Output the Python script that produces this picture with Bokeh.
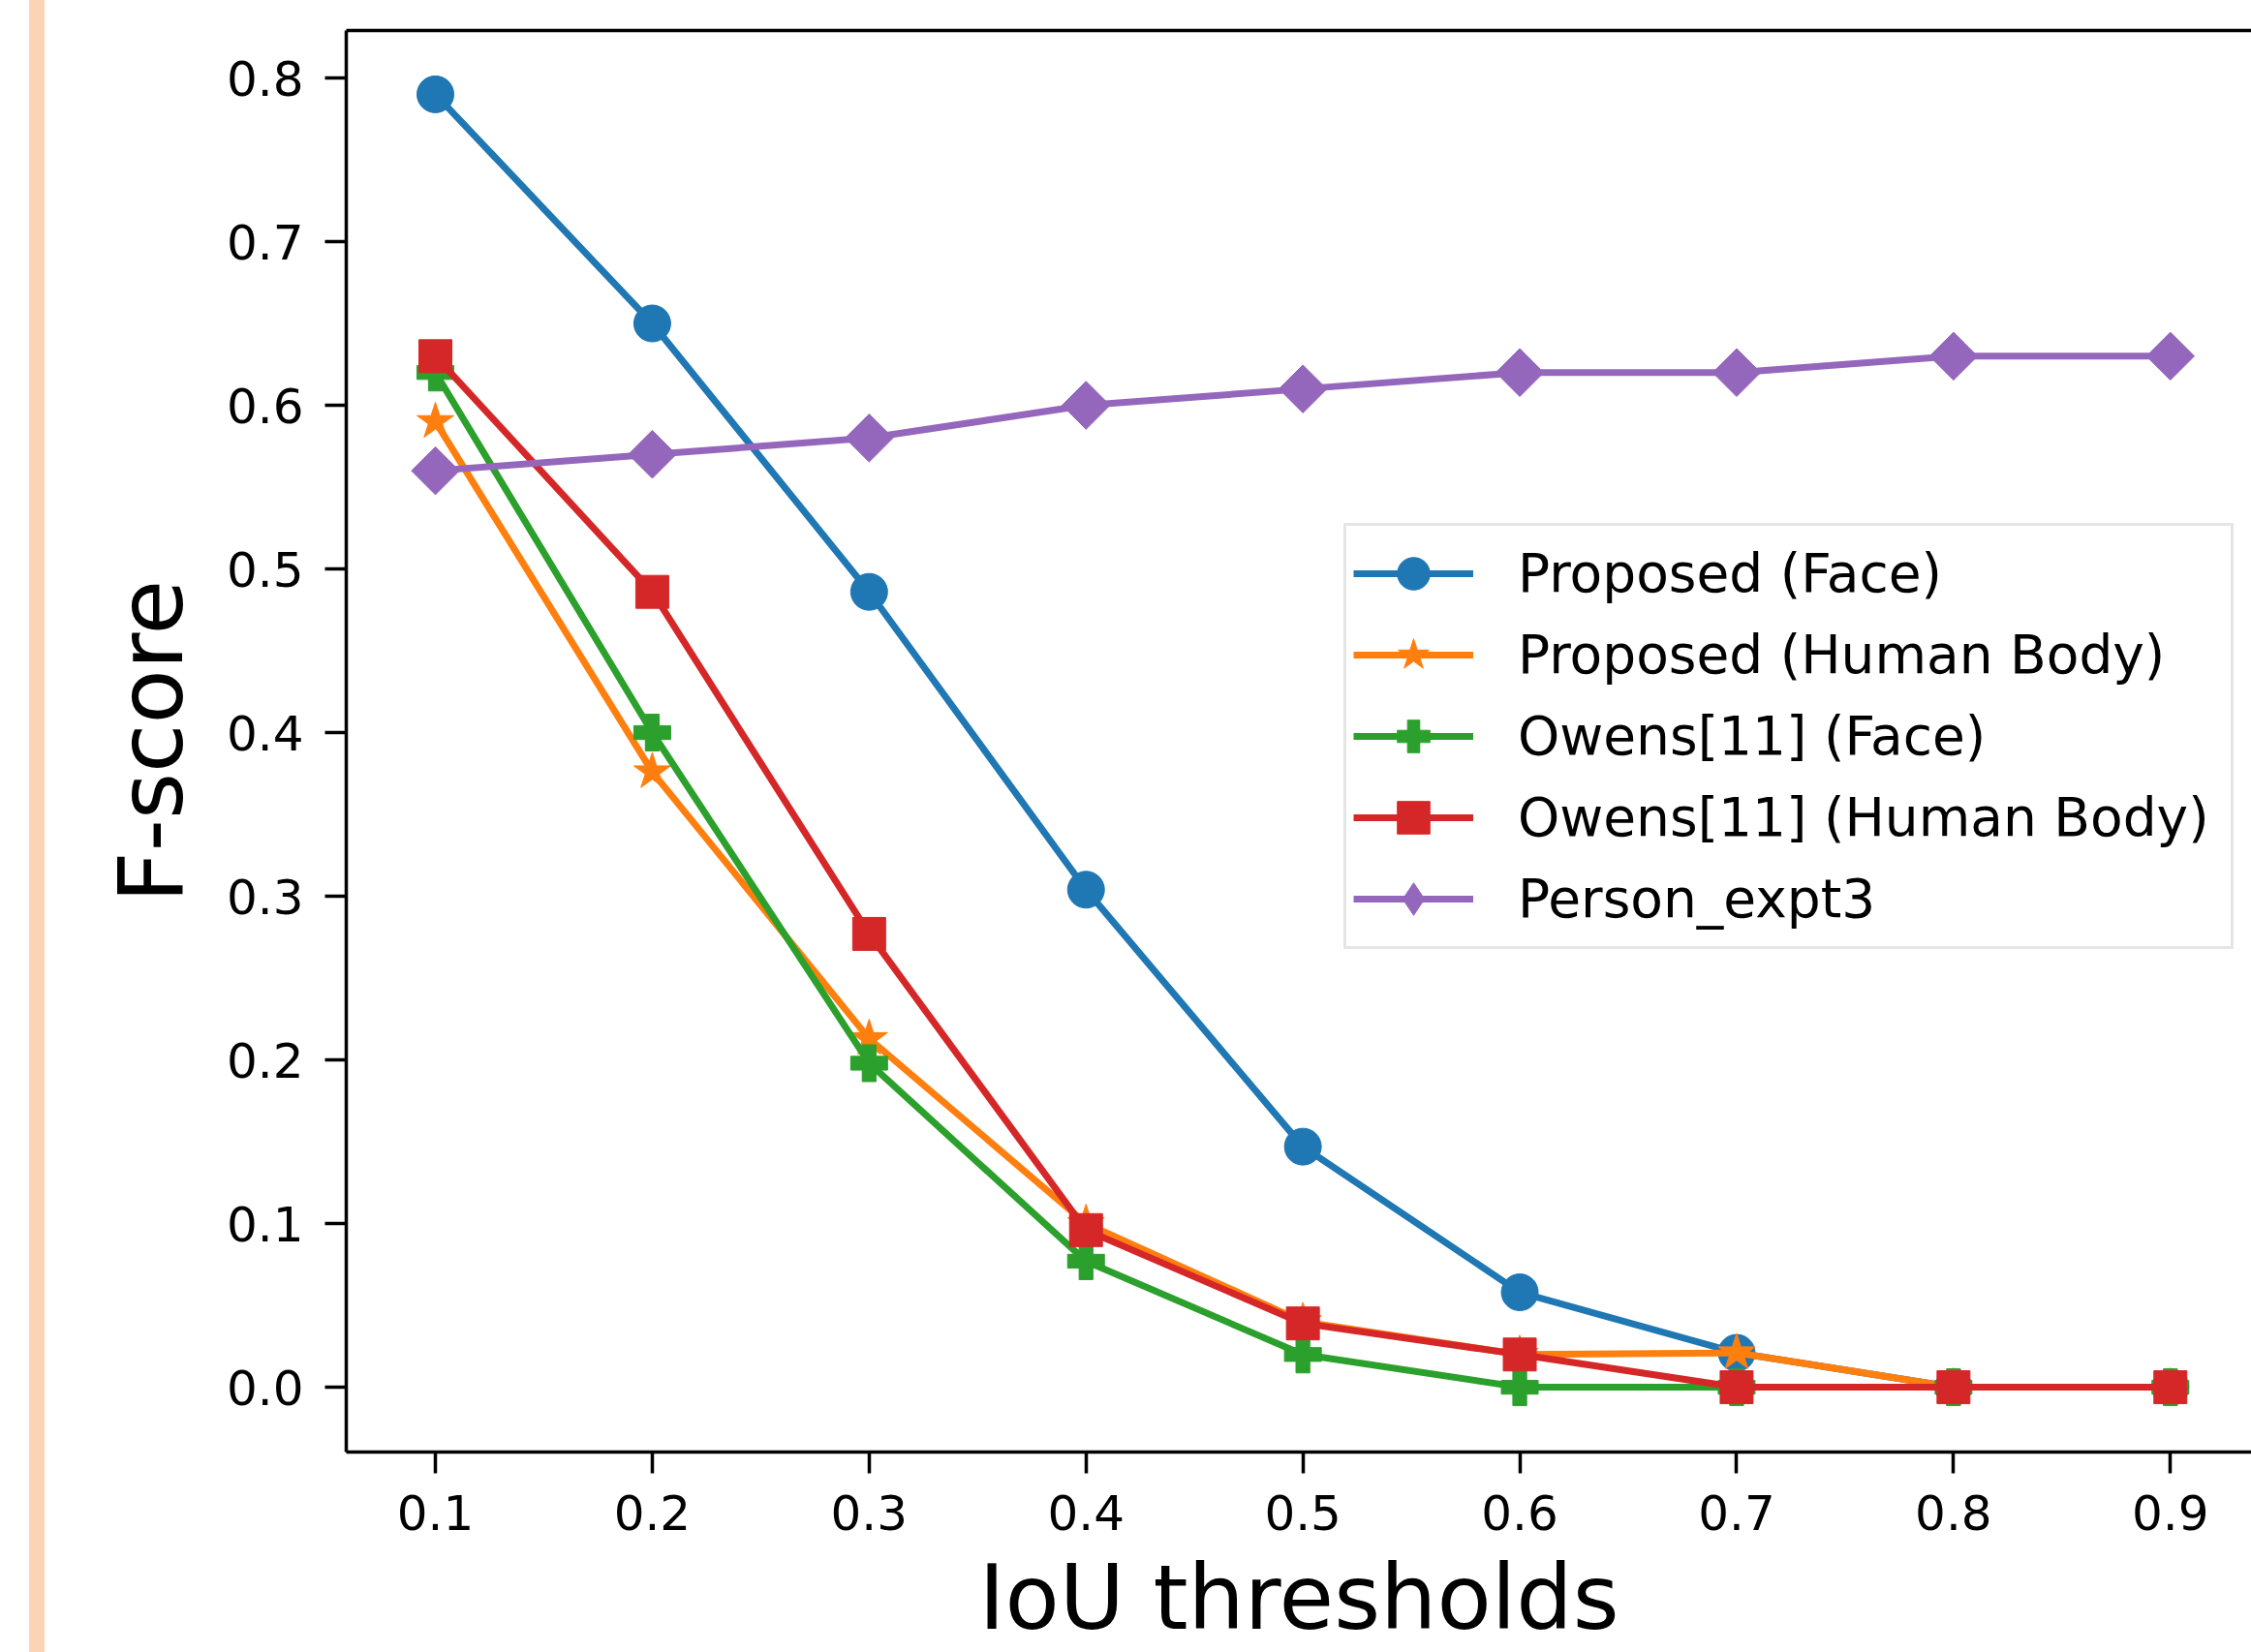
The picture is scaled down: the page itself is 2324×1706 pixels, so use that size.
import numpy as np
from bokeh.plotting import figure
from bokeh.models import (Range1d, FixedTicker, LinearAxis, Legend, LegendItem,
                          Spacer, PrintfTickFormatter)
from bokeh.layouts import row
from bokeh.embed import file_html
from bokeh.resources import INLINE

# ---------------- data ----------------
iou_thresholds = [0.1, 0.2, 0.3, 0.4, 0.5, 0.6, 0.7, 0.8, 0.9]
proposed_face = [0.79, 0.65, 0.486, 0.304, 0.147, 0.058, 0.021, 0.0, 0.0]
proposed_body = [0.59, 0.376, 0.213, 0.10, 0.04, 0.02, 0.021, 0.0, 0.0]
owens_face = [0.62, 0.40, 0.198, 0.077, 0.02, 0.0, 0.0, 0.0, 0.0]
owens_body = [0.63, 0.486, 0.277, 0.096, 0.039, 0.02, 0.0, 0.0, 0.0]
person_expt3 = [0.56, 0.57, 0.58, 0.60, 0.61, 0.62, 0.62, 0.63, 0.63]

series_labels = ["Proposed (Face)", "Proposed (Human Body)", "Owens[11] (Face)",
                 "Owens[11] (Human Body)", "Person_expt3"]
x_ticks = [0.1, 0.2, 0.3, 0.4, 0.5, 0.6, 0.7, 0.8, 0.9]
y_ticks = [0.0, 0.1, 0.2, 0.3, 0.4, 0.5, 0.6, 0.7, 0.8]
x_title = "IoU thresholds"
y_title = "F-score"

# ---------------- style ----------------
FONT = "DejaVu Sans"
colors = ["#1f77b4", "#ff7f0e", "#2ca02c", "#d62728", "#9467bd"]
markers = ["circle", "star", "plus", "square", "square"]
legend_markers = ["circle", "star", "plus", "square", "diamond"]
sizes = [38, 40, 38, 34, 35]
angles = [0, 0, 0, 0, np.pi / 4]

W, H = 2278, 1706
p = figure(width=W, height=H, output_backend="svg", toolbar_location=None,
           title=None,
           x_range=Range1d(0.0589, 0.9374), y_range=Range1d(-0.0396, 0.829),
           min_border_left=311, min_border_right=0, min_border_top=31,
           min_border_bottom=205)
p.outline_line_color = None
p.background_fill_color = "white"
p.border_fill_color = "white"
p.xgrid.visible = False
p.ygrid.visible = False

all_series = [proposed_face, proposed_body, owens_face, owens_body, person_expt3]
items = []
for vals, lab, col, mk, lmk, sz, ang in zip(all_series, series_labels, colors, markers,
                                           legend_markers, sizes, angles):
    lr = p.line(iou_thresholds, vals, line_color=col, line_width=7)
    sr = p.scatter(iou_thresholds, vals, marker=mk, size=sz, angle=ang,
                   fill_color=col, line_color=col, line_width=1)
    if lmk != mk:
        # legend-only glyph (a diamond), not drawn in the plot area
        legr = p.scatter(iou_thresholds, vals, marker=lmk, size=sz,
                         fill_color=col, line_color=col, line_width=1, visible=False)
        items.append(LegendItem(label=lab, renderers=[lr, legr]))
    else:
        items.append(LegendItem(label=lab, renderers=[lr, sr]))

for ax in (p.xaxis[0], p.yaxis[0]):
    ax.axis_line_color = "black"
    ax.axis_line_width = 3.5
    ax.major_tick_line_color = "black"
    ax.major_tick_line_width = 3.5
    ax.major_tick_out = 22
    ax.major_tick_in = 0
    ax.minor_tick_line_color = None
    ax.major_label_text_font = FONT
    ax.major_label_text_font_size = "50px"
    ax.major_label_text_color = "black"
    ax.formatter = PrintfTickFormatter(format="%.1f")
    ax.axis_label_text_font = FONT
    ax.axis_label_text_font_size = "92px"
    ax.axis_label_text_font_style = "normal"
    ax.axis_label_text_color = "black"

p.xaxis[0].ticker = FixedTicker(ticks=x_ticks)
p.yaxis[0].ticker = FixedTicker(ticks=y_ticks)
p.xaxis[0].major_label_standoff = 22
p.yaxis[0].major_label_standoff = 22

p.yaxis[0].axis_label = y_title
p.yaxis[0].axis_label_standoff = 21
p.xaxis[0].axis_label = x_title
p.xaxis[0].axis_label_standoff = 14

top_axis = LinearAxis(ticker=FixedTicker(ticks=[]), major_label_text_font_size="0px",
                      major_tick_line_color=None, minor_tick_line_color=None,
                      axis_line_color="black", axis_line_width=3.5)
p.add_layout(top_axis, "above")

legend = Legend(items=items, location=(1030, 519), orientation="vertical",
                label_text_font=FONT, label_text_font_size="55px",
                label_text_color="black",
                glyph_width=124, glyph_height=84, label_height=60, label_width=729,
                label_standoff=46, padding=7, spacing=0, margin=0,
                border_line_color="#cccccc", border_line_width=3,
                background_fill_color="white", background_fill_alpha=0.8)
p.add_layout(legend)

gap = Spacer(width=30, height=H)
strip = Spacer(width=16, height=H, styles={"background-color": "#fbd4b4"})
layout = row(gap, strip, p)

open("out.html", "w").write(file_html(layout, INLINE))
